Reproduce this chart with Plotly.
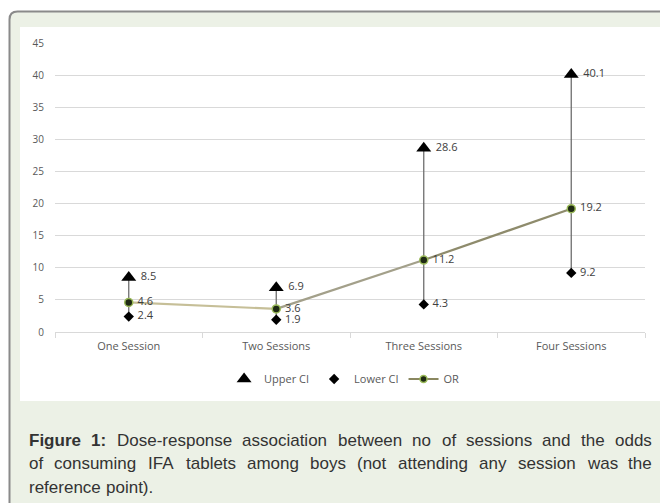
import plotly.graph_objects as go

categories = ["One Session", "Two Sessions", "Three Sessions", "Four Sessions"]
upper_ci = [8.5, 6.9, 28.6, 40.1]
lower_ci = [2.4, 1.9, 4.3, 9.2]
odds_ratio = [4.6, 3.6, 11.2, 19.2]
y_ticks = [0, 5, 10, 15, 20, 25, 30, 35, 40, 45]
segment_colors = ["#c6bf98", "#a3a08a", "#8e8b6c"]
caption_bold = "Figure 1:"
caption_lines = [
    "Figure 1: Dose-response association between no of sessions and the odds",
    "of consuming IFA tablets among boys (not attending any session was the",
    "reference point).",
]

# the page body adds an 8px margin; work in window pixels and convert
OFF = 8
W, H = 660, 495
PLOT_L, PLOT_R, PLOT_T, PLOT_B = 55, 645, 43, 332  # window pixels
ML, MR, MT = PLOT_L - OFF, W - (PLOT_R - OFF), PLOT_T - OFF
MB = H - (PLOT_B - OFF)
PW, PH = W - ML - MR, H - MT - MB


def fx(px):
    return (px - PLOT_L) / PW


def fy(py):
    return (PLOT_B - py) / PH


def lab(vals):
    return ["\u00a0" + f"{v:.1f}" for v in vals]


fig = go.Figure()

# high-low lines
hx, hy = [], []
for c, lo, up in zip(categories, lower_ci, upper_ci):
    hx += [c, c, None]
    hy += [lo, up, None]
fig.add_trace(go.Scatter(x=hx, y=hy, mode="lines", line=dict(color="#6e6e6e", width=1.3),
                         showlegend=False, hoverinfo="skip"))

# OR line segments
for i in range(len(categories) - 1):
    fig.add_trace(go.Scatter(x=categories[i:i + 2], y=odds_ratio[i:i + 2], mode="lines",
                             line=dict(color=segment_colors[i], width=2.2),
                             showlegend=False, hoverinfo="skip"))

lab_font = dict(family="Open Sans", size=11, color="#404040")

fig.add_trace(go.Scatter(x=categories, y=upper_ci, mode="markers+text", name="Upper CI",
                         marker=dict(symbol="triangle-up", size=13, color="black"),
                         text=lab(upper_ci), textposition="middle right",
                         textfont=lab_font))
fig.add_trace(go.Scatter(x=categories, y=lower_ci, mode="markers+text", name="Lower CI",
                         marker=dict(symbol="diamond", size=8, color="black"),
                         text=lab(lower_ci), textposition="middle right",
                         textfont=lab_font))
fig.add_trace(go.Scatter(x=[None], y=[None], mode="lines+markers", name="OR",
                         line=dict(color="#8a8760", width=2.2),
                         marker=dict(symbol="circle", size=7, color="#1f2a14",
                                     line=dict(color="#9bbb59", width=1.5))))
fig.add_trace(go.Scatter(x=categories, y=odds_ratio, mode="markers+text", name="OR",
                         showlegend=False,
                         marker=dict(symbol="circle", size=8, color="#1f2a14",
                                     line=dict(color="#9bbb59", width=1.5)),
                         text=lab(odds_ratio), textposition="middle right",
                         textfont=lab_font))

shapes = [
    dict(type="path", xref="paper", yref="paper", layer="below",
         path=(f"M {fx(9.5)},{fy(580)} L {fx(9.5)},{fy(19.5)} "
               f"Q {fx(9.5)},{fy(11.5)} {fx(17.5)},{fy(11.5)} "
               f"L {fx(720)},{fy(11.5)} L {fx(720)},{fy(580)} Z"),
         fillcolor="#ecf1e6", line=dict(color="#8a8a8a", width=2)),
    dict(type="rect", xref="paper", yref="paper", layer="below",
         x0=fx(20), x1=fx(661), y0=fy(401), y1=fy(27),
         fillcolor="white", line=dict(width=0)),
]

# Arial / Liberation Sans advance widths (per 1000 em)
REG = {' ': 278, '-': 333, '(': 333, ')': 333, '.': 278, ':': 278, '1': 556,
       'A': 667, 'D': 722, 'F': 611, 'I': 278,
       'a': 556, 'b': 556, 'c': 500, 'd': 556, 'e': 556, 'f': 278, 'g': 556, 'h': 556,
       'i': 222, 'j': 222, 'k': 500, 'l': 222, 'm': 833, 'n': 556, 'o': 556, 'p': 556,
       'q': 556, 'r': 333, 's': 500, 't': 278, 'u': 556, 'v': 500, 'w': 722, 'x': 500,
       'y': 500, 'z': 500}
BOLD = {' ': 278, 'F': 611, 'i': 278, 'g': 611, 'u': 611, 'r': 389, 'e': 556,
        '1': 556, ':': 333}
CAP_SIZE = 17


def text_w(s, bold=False):
    tab = BOLD if bold else REG
    return sum(tab.get(ch, 556) for ch in s) * CAP_SIZE / 1000


annotations = []
cap_y = [440, 463, 487]
CAP_L, CAP_R = 29, 652
bold_words = caption_bold.split()
for li, (line, py) in enumerate(zip(caption_lines, cap_y)):
    words = line.split()
    flags = [li == 0 and wi < len(bold_words) for wi in range(len(words))]
    widths = [text_w(w, b) for w, b in zip(words, flags)]
    justify = li < len(caption_lines) - 1
    gap = (CAP_R - CAP_L - sum(widths)) / (len(words) - 1) if justify else text_w(" ")
    x = CAP_L
    for w, b, wd in zip(words, flags, widths):
        annotations.append(dict(text=f"<b>{w}</b>" if b else w, xref="paper", yref="paper",
                                x=fx(x - 1), y=fy(py), xanchor="left", yanchor="middle",
                                showarrow=False, borderpad=0,
                                font=dict(family="Liberation Sans", size=CAP_SIZE,
                                          color="#333333")))
        x += wd + gap

fig.update_layout(
    width=W, height=H,
    margin=dict(l=ML, r=MR, t=MT, b=MB, pad=0),
    paper_bgcolor="white", plot_bgcolor="rgba(0,0,0,0)",
    shapes=shapes, annotations=annotations,
    showlegend=True,
    legend=dict(orientation="h", x=0.49, xanchor="center", y=fy(379), yanchor="middle",
                font=dict(family="Open Sans", size=11, color="#595959"),
                bgcolor="rgba(0,0,0,0)", itemwidth=30),
    xaxis=dict(type="category", range=[-0.5, len(categories) - 0.5], showgrid=False,
               showline=True, linecolor="#d9d9d9",
               ticks="outside", tickson="boundaries", ticklen=5, tickcolor="#d9d9d9",
               tickfont=dict(family="Open Sans", size=11, color="#595959"),
               ticklabelstandoff=4, zeroline=False, fixedrange=True),
    yaxis=dict(range=[0, 45], tickvals=y_ticks, showgrid=True, gridcolor="#d9d9d9",
               gridwidth=1, zeroline=False, showline=False, ticks="",
               tickfont=dict(family="Open Sans", size=10, color="#595959"),
               ticklabelstandoff=10),
)

fig.write_html("out.html")
